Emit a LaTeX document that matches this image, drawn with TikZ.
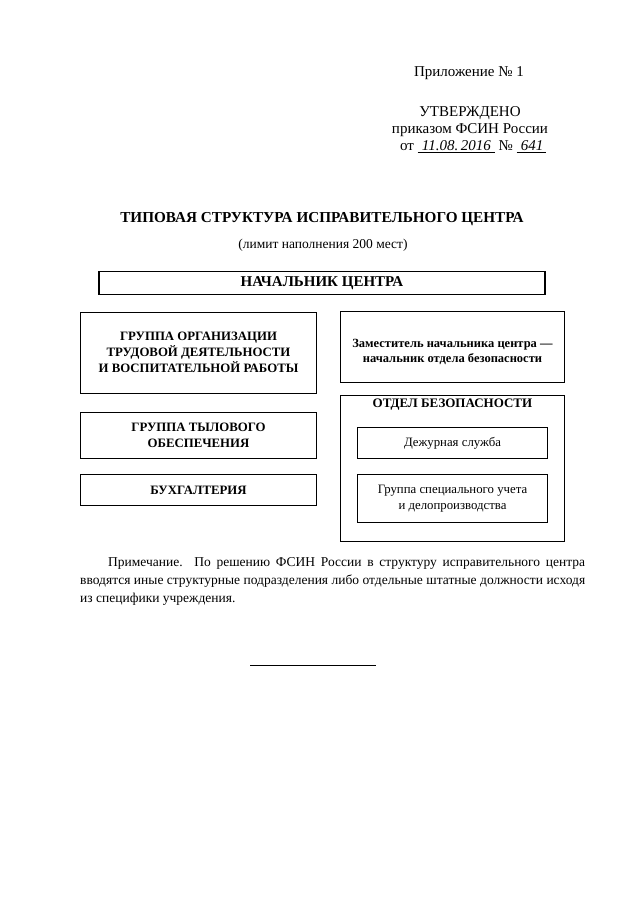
\documentclass[tikz,border=0pt]{standalone}
\usepackage{fontspec}
\setmainfont{Liberation Serif}
\usetikzlibrary{positioning}

\tikzset{
  unitbox/.style={draw, line width=1pt, align=center, inner sep=2pt, font=\bfseries\fontsize{12.8}{16}\selectfont},
  subbox/.style={draw, line width=0.8pt, align=center, inner sep=2pt, font=\fontsize{12.8}{16}\selectfont}
}

\begin{document}
\begin{tikzpicture}[x=1pt,y=-1pt]
\useasboundingbox (0,0) rectangle (640,905);

% Approval block
\node (annex) at (469,73) {\fontsize{15}{17}\selectfont Приложение № 1};
\node (approved) at (470,113) {\fontsize{15}{17}\selectfont УТВЕРЖДЕНО};
\node (order) at (470,130) {\fontsize{15}{17}\selectfont приказом ФСИН России};
\node (date) at (473,147) {\fontsize{15}{17}\selectfont от \underline{\;\textit{11.08.\,2016}\;}
  № \underline{\;\textit{641}\,}};

% Title
\node (title) at (322,219) {\bfseries\fontsize{15.2}{17}\selectfont ТИПОВАЯ СТРУКТУРА ИСПРАВИТЕЛЬНОГО ЦЕНТРА};
\node (limit) at (323,245) {\fontsize{13.5}{15}\selectfont (лимит наполнения 200 мест)};

% Head
\node[unitbox, minimum width=446pt, minimum height=23pt, line width=1.4pt,
  font=\bfseries\fontsize{15}{17}\selectfont] (head) at (322,283) {НАЧАЛЬНИК ЦЕНТРА};

% Left column
\node[unitbox, minimum width=236pt, minimum height=81pt] (labour) at (198.5,352.5)
  {ГРУППА ОРГАНИЗАЦИИ\\ТРУДОВОЙ ДЕЯТЕЛЬНОСТИ\\И ВОСПИТАТЕЛЬНОЙ РАБОТЫ};
\node[unitbox, minimum width=236pt, minimum height=46pt] (supply) at (198.5,435)
  {ГРУППА ТЫЛОВОГО\\ОБЕСПЕЧЕНИЯ};
\node[unitbox, minimum width=236pt, minimum height=31pt] (account) at (198.5,490)
  {БУХГАЛТЕРИЯ};

% Right column
\node[unitbox, minimum width=224pt, minimum height=71pt] (deputy) at (452.5,346.5) {};
\node[font=\bfseries\fontsize{12.5}{15}\selectfont, align=center] (deputytext) at (452.5,352)
  {Заместитель начальника центра ---\\начальник отдела безопасности};
\node[unitbox, minimum width=224pt, minimum height=146pt] (security) at (452.5,468) {};
\node[font=\bfseries\fontsize{13}{15}\selectfont, below=1pt of security.north] (sectitle)
  {ОТДЕЛ БЕЗОПАСНОСТИ};
\node[subbox, minimum width=190pt, minimum height=31pt] (duty) at (452.5,443)
  {Дежурная служба};
\node[subbox, minimum width=190pt, minimum height=48pt] (records) at (452.5,498.5)
  {Группа специального учета\\и делопроизводства};

% Note
\node[anchor=north west, text width=505pt, inner sep=0pt, align=justify,
  font=\fontsize{13.5}{18}\selectfont] (note) at (80,557)
  {\parindent=28pt\indent Примечание. По решению ФСИН России в структуру исправительного центра вводятся иные структурные подразделения либо отдельные штатные должности исходя из специфики учреждения.};

% Closing rule
\coordinate (rulea) at (250,665);
\coordinate (ruleb) at (376,665);
\draw[line width=0.8pt] (rulea) -- (ruleb);
\end{tikzpicture}
\end{document}
